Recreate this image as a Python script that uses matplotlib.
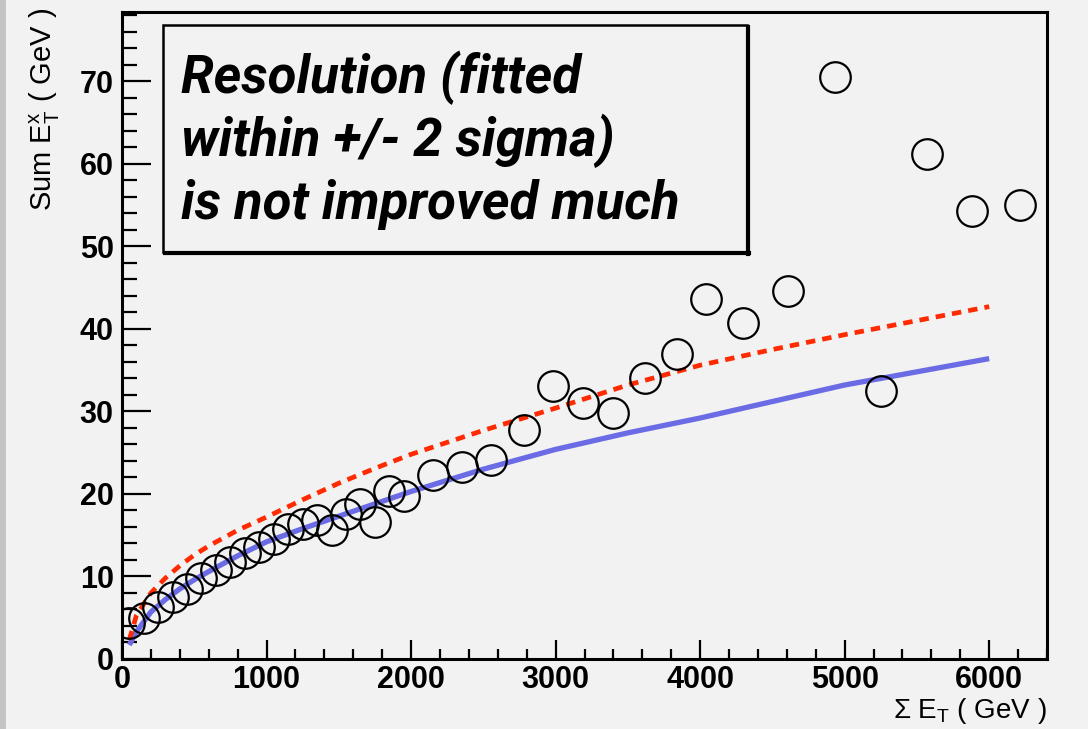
import matplotlib
matplotlib.use("Agg")
import matplotlib.pyplot as plt
from matplotlib.patches import Rectangle
from matplotlib.lines import Line2D
from matplotlib.ticker import MultipleLocator

# data points (open circles)
sum_et = [50, 150, 250, 350, 450, 550, 650, 750, 850, 950,
          1050, 1150, 1250, 1350, 1450, 1550, 1650, 1750, 1850, 1950,
          2150, 2350, 2550, 2780, 2980, 3190, 3400, 3620, 3840, 4040,
          4300, 4610, 4930, 5250, 5570, 5880, 6210]
sum_ex = [4.4, 5.0, 6.3, 7.5, 8.5, 9.8, 10.8, 11.8, 12.8, 13.6,
          14.5, 15.8, 16.4, 16.8, 15.6, 17.6, 18.8, 16.6, 20.3, 19.8,
          22.3, 23.3, 24.1, 27.8, 33.1, 31.0, 29.8, 34.1, 37.0, 43.6,
          40.7, 44.6, 70.5, 32.5, 61.2, 54.3, 55.0]

# fitted curves
curve_x = [50, 100, 200, 300, 400, 500, 600, 800, 1000, 1250, 1500, 1750,
           2000, 2500, 3000, 3500, 4000, 4500, 5000, 5500, 6000]
blue_y = [1.7, 3.3, 5.7, 7.2, 8.5, 9.6, 10.6, 12.5, 14.2, 15.8, 17.3, 18.8,
          20.3, 23.0, 25.4, 27.4, 29.2, 31.2, 33.2, 34.8, 36.4]
red_y = [2.3, 5.3, 8.0, 9.8, 11.3, 12.6, 13.7, 15.6, 17.2, 19.3, 21.3, 23.1,
         24.8, 27.7, 30.4, 33.2, 35.6, 37.5, 39.3, 41.0, 42.7]

note_lines = ["Resolution (fitted", "within +/- 2 sigma)", "is not improved much"]

W, H = 1088, 729
bg = "#f2f2f2"
fig = plt.figure(figsize=(W / 100, H / 100), dpi=100, facecolor=bg)

# left slide border strip
fig.add_artist(Rectangle((0, 0), 6 / W, 1, transform=fig.transFigure,
                         facecolor="#c4c4c4", edgecolor="none"))

ax = fig.add_axes([122 / W, 1 - 659 / H, (1047 - 122) / W, (659 - 12) / H])
ax.set_facecolor(bg)

ax.plot(curve_x, blue_y, color="#6b6be6", lw=3.8, solid_capstyle="butt", zorder=2)
ax.plot(curve_x, red_y, color="#ff2a00", lw=3.4, dashes=(2.0, 1.5),
        dash_capstyle="butt", zorder=3)
ax.plot(sum_et, sum_ex, linestyle="none", marker="o", markersize=22,
        markerfacecolor="none", markeredgecolor="black", markeredgewidth=1.6,
        zorder=4)

ax.set_xlim(0, 6400)
ax.set_ylim(0, 78.4)
ax.xaxis.set_major_locator(MultipleLocator(1000))
ax.xaxis.set_minor_locator(MultipleLocator(200))
ax.yaxis.set_major_locator(MultipleLocator(10))
ax.yaxis.set_minor_locator(MultipleLocator(2))

for s in ax.spines.values():
    s.set_linewidth(2.2)
ax.tick_params(axis="both", which="both", direction="in", width=1.6,
               top=False, right=False)
ax.tick_params(axis="y", which="major", length=21, pad=6)
ax.tick_params(axis="y", which="minor", length=10.5)
ax.tick_params(axis="x", which="major", length=13.5, pad=4)
ax.tick_params(axis="x", which="minor", length=7)
for lab in ax.get_xticklabels() + ax.get_yticklabels():
    lab.set_fontfamily("Liberation Sans")
    lab.set_fontweight("bold")
    lab.set_fontsize(22)

fig.text(45 / W, 1 - 8 / H, r"Sum $\mathregular{E_{T}^{x}}$ ( GeV )",
         rotation=90, ha="center", va="top", fontsize=21,
         family="Liberation Sans")
fig.text(1047 / W, 1 - 726 / H, r"$\mathregular{\Sigma}$ $\mathregular{E_{T}}$ ( GeV )",
         ha="right", va="bottom", fontsize=20, family="Liberation Sans")

# annotation box
bx0, by0, bx1, by1 = 163, 25, 747, 252
fig.add_artist(Rectangle((bx0 / W, 1 - by1 / H), (bx1 - bx0) / W, (by1 - by0) / H,
                         transform=fig.transFigure, facecolor=bg,
                         edgecolor="black", lw=1.8, zorder=5))
fig.add_artist(Line2D([(bx1 + 1) / W, (bx1 + 1) / W], [1 - (by1 + 2) / H, 1 - (by0 + 2) / H],
                      transform=fig.transFigure, color="black", lw=3, zorder=6))
fig.add_artist(Line2D([(bx0 + 2) / W, (bx1 + 2) / W], [1 - (by1 + 1) / H, 1 - (by1 + 1) / H],
                      transform=fig.transFigure, color="black", lw=3, zorder=6))
for i, line in enumerate(note_lines):
    fig.text(181 / W, 1 - (93 + 63 * i) / H, line, ha="left", va="baseline",
             fontsize=38, fontweight="bold", fontstyle="italic",
             family="Roboto", zorder=7)

fig.savefig("out.png", dpi=100, facecolor=bg)
